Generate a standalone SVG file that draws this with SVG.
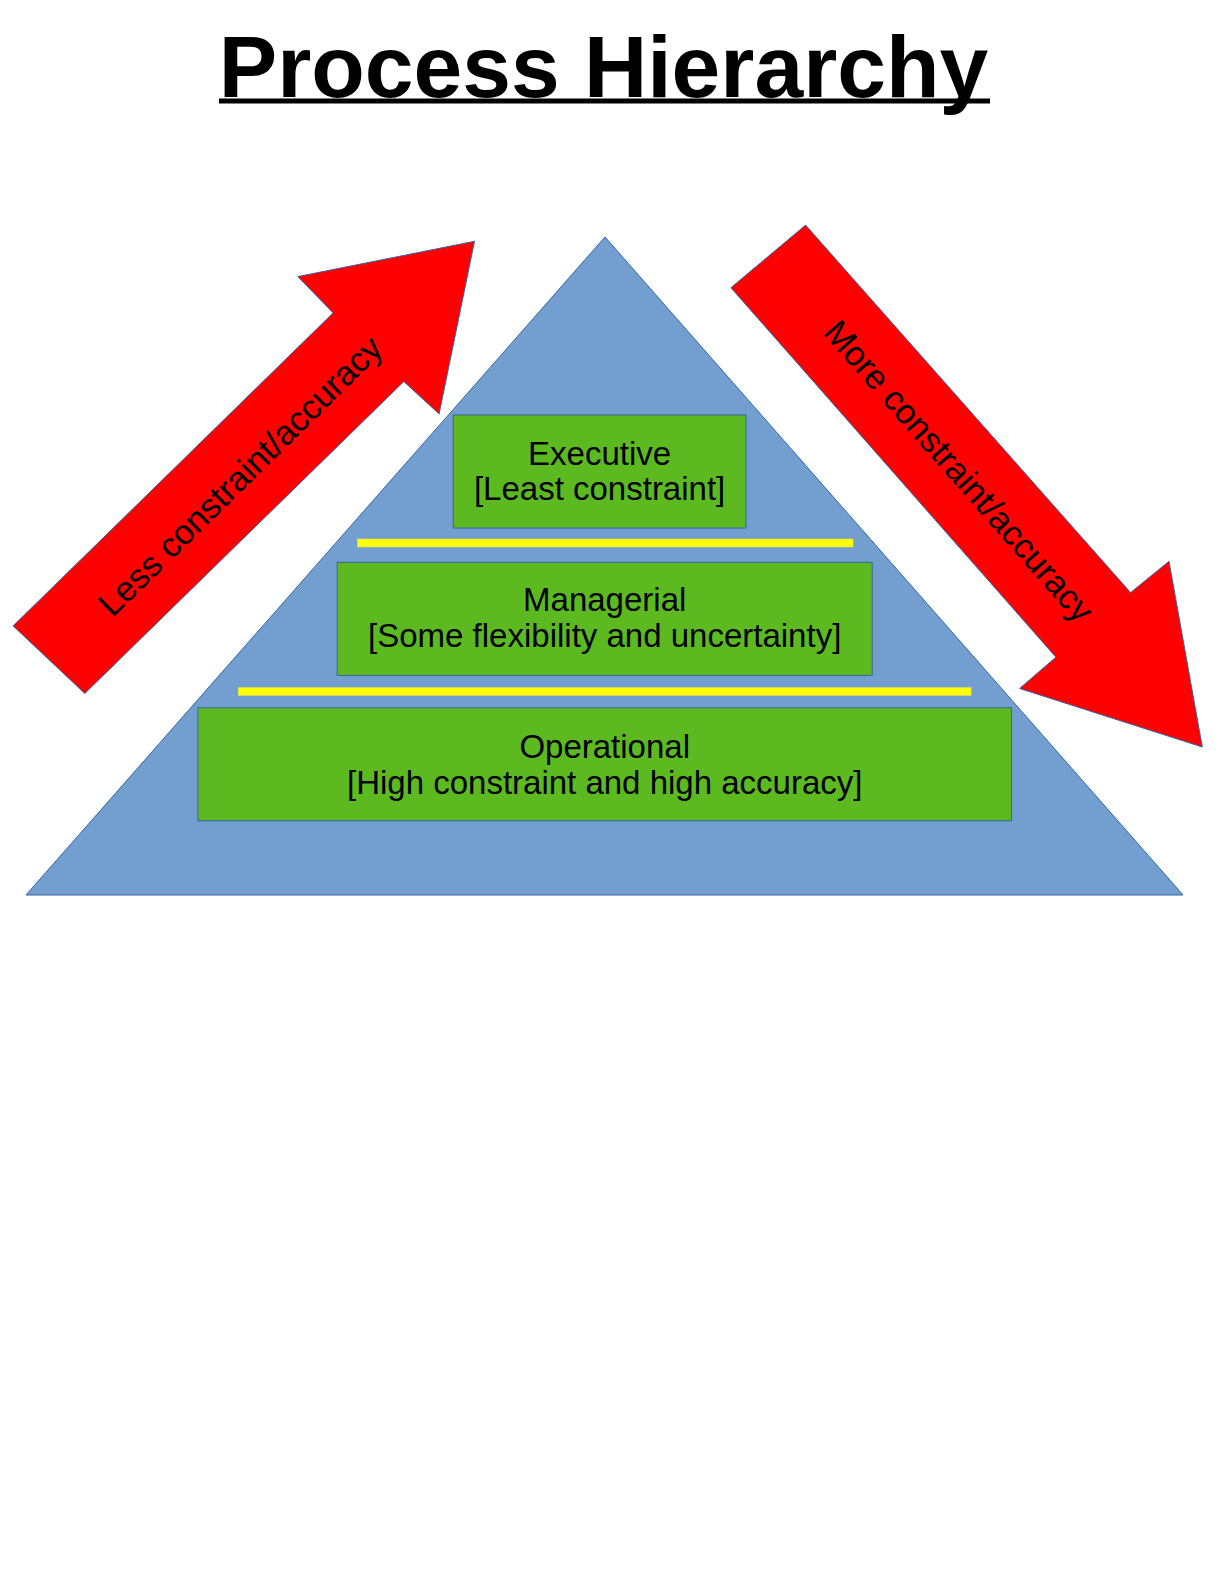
<svg xmlns="http://www.w3.org/2000/svg" width="1224" height="1584" viewBox="0 0 1224 1584">
<style>
text{font-family:"Liberation Sans",Arial,sans-serif;fill:#000}
.lbl{font-size:33px;text-anchor:middle}
.alb{font-size:34.7px;text-anchor:middle}
.title{font-size:87.6px;font-weight:bold;text-anchor:middle}
.box{fill:#5cb91f;stroke:#3465a4;stroke-width:1}
.bar{fill:#ffff00;stroke:#e0e060;stroke-width:0.5}
.arrow{fill:#ff0000;stroke:#3465a4;stroke-width:1}
</style>
<rect width="1224" height="1584" fill="#fff"/>
<g id="title">
<text class="title" x="603.5" y="96.5">Process Hierarchy</text>
<rect x="219" y="98.5" width="771" height="5" fill="#000"/>
</g>
<g id="pyramid">
<polygon points="605,237 1183,895 26,895" fill="#729fcf" stroke="#3465a4" stroke-width="1"/>
</g>
<g id="connectors">
<polygon class="arrow" points="474.5,241.3 439.1,413.9 403.8,381.6 84.8,693.5 13.1,625.9 333.1,312.9 297.8,276.6"/>
<polygon class="arrow" points="805.6,225.1 1130.6,592.6 1169,561.3 1202.3,747 1019.6,688.5 1055.9,657.2 730.9,287.7"/>
<rect class="bar" x="357.4" y="539" width="495.6" height="8"/>
<rect class="bar" x="238.2" y="687.5" width="732.9" height="8"/>
</g>
<g id="less-label">
<text class="alb" x="240" y="476" dominant-baseline="central" transform="rotate(-44.5 240 476)">Less constraint/accuracy</text>
</g>
<g id="more-label">
<text class="alb" x="959" y="471" dominant-baseline="central" transform="rotate(48.7 959 471)">More constraint/accuracy</text>
</g>
<g id="executive">
<rect class="box" x="453.3" y="414.9" width="292.7" height="113.1"/>
<text class="lbl" x="599.6" y="464.5">Executive</text>
<text class="lbl" x="599.6" y="500">[Least constraint]</text>
</g>
<g id="managerial">
<rect class="box" x="337.2" y="562.3" width="535" height="113.1"/>
<text class="lbl" x="604.7" y="611">Managerial</text>
<text class="lbl" x="604.7" y="646.5">[Some flexibility and uncertainty]</text>
</g>
<g id="operational">
<rect class="box" x="197.9" y="707.7" width="813.6" height="113.1"/>
<text class="lbl" x="604.7" y="757.5">Operational</text>
<text class="lbl" x="604.7" y="794">[High constraint and high accuracy]</text>
</g>
</svg>
